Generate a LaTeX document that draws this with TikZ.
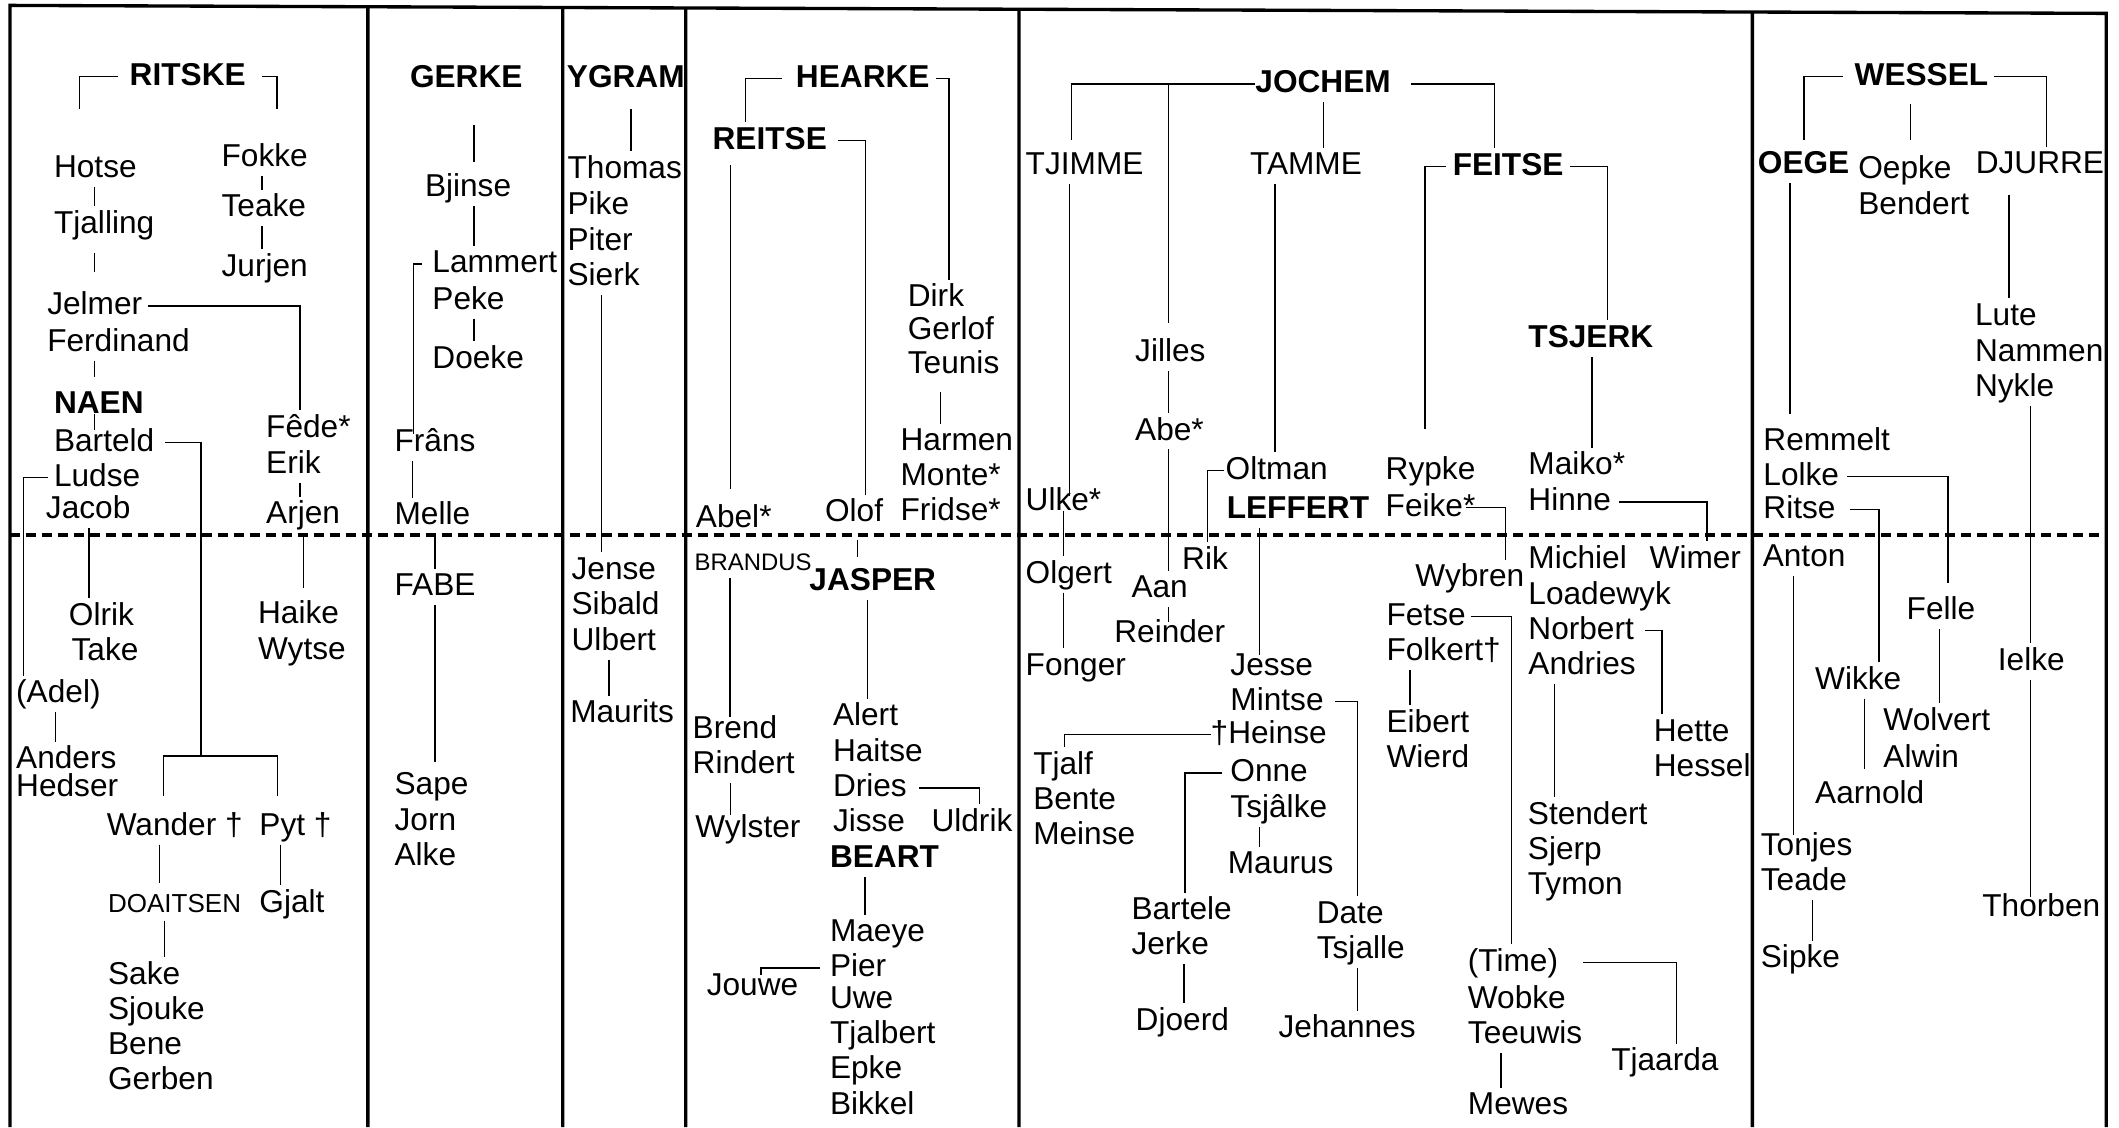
\documentclass[tikz,border=0pt]{standalone}
\usepackage{fontspec}
\setmainfont{Liberation Sans}
\newlength\pxu
\setlength\pxu{0.13514mm}

\begin{document}
\begin{tikzpicture}[x=\pxu, y=-\pxu,
  nm/.style={anchor=base west, inner sep=0pt, outer xsep=0pt, outer ysep=0.7pt,
             text height=7pt, text depth=2pt, font=\fontsize{9}{10}\selectfont},
  bnm/.style={nm, font=\fontsize{9}{10}\selectfont\bfseries},
  snm/.style={nm, text height=5.5pt, text depth=1.6pt, font=\fontsize{7.4}{8}\selectfont},
  edgeline/.style={line width=0.95pt},
  midline/.style={line width=1.15pt, dash pattern=on 2.85pt off 1.7pt}]

\useasboundingbox (0,0) rectangle (1568,834);

\draw[edgeline] (7.4,834) -- (7.4,4) -- (1558.5,9.9) -- (1558.5,834)
      (272.2,5) -- (272.2,834) (416.4,5.6) -- (416.4,834) (507.4,5.9) -- (507.4,834)
      (754,6.8) -- (754,834) (1296.7,8.9) -- (1296.7,834);
\draw[midline] (7.4,396) -- (1558.5,396);

% RITSKE
\path (96,63.3) node[bnm] (ritske) {RITSKE}
      (40,131) node[nm] (hotse) {Hotse} (40,172.5) node[nm] (tjalling) {Tjalling}
      (164,123) node[nm] (fokke) {Fokke} (164,160.5) node[nm] (teake) {Teake}
      (164,204.5) node[nm] (jurjen) {Jurjen}
      (35,233) node[nm] (jelmer) {Jelmer} (35,260) node[nm] (ferdinand) {Ferdinand}
      (40,306) node[bnm] (naen) {NAEN} (40,334) node[nm] (barteld) {Barteld}
      (40,360) node[nm] (ludse) {Ludse} (34,384) node[nm] (jacob) {Jacob}
      (197,323.6) node[nm] (fede) {Fêde*} (197,350.6) node[nm] (erik) {Erik}
      (197,387.5) node[nm] (arjen) {Arjen}
      (51,462.8) node[nm] (olrik) {Olrik} (53,488.7) node[nm] (take) {Take}
      (191,461.5) node[nm] (haike) {Haike} (191,487.9) node[nm] (wytse) {Wytse}
      (12,520) node[nm] (adel) {(Adel)}
      (12,569) node[nm] (anders) {Anders} (12,589.5) node[nm] (hedser) {Hedser}
      (79,618) node[nm] (wander) {Wander †} (192,618) node[nm] (pyt) {Pyt †}
      (80,675.2) node[snm] (doaitsen) {DOAITSEN} (192,675.2) node[nm] (gjalt) {Gjalt}
      (80,728.3) node[nm] (sake) {Sake} (80,754.2) node[nm] (sjouke) {Sjouke}
      (80,780) node[nm] (bene) {Bene} (80,806) node[nm] (gerben) {Gerben};

\draw ([xshift=-9\pxu]ritske.west) -| ++(-28,24);
\draw ([xshift=12.2\pxu]ritske.east) -| ++(11,24);
\draw ([xshift=30\pxu]hotse.south west) -- ([xshift=30\pxu]hotse.south west |- tjalling.north);
\draw[shorten <=8\pxu, shorten >=12\pxu] ([xshift=30\pxu]tjalling.south west) -- ([xshift=30\pxu]tjalling.south west |- jelmer.north);
\draw ([xshift=30\pxu]fokke.south west) -- ([xshift=30\pxu]fokke.south west |- teake.north);
\draw ([xshift=30\pxu]teake.south west) -- ([xshift=30\pxu]teake.south west |- jurjen.north);
\draw ([xshift=4.5\pxu]jelmer.east) -| ([xshift=25\pxu]fede.north west);
\draw[shorten >=7\pxu] ([xshift=35\pxu]ferdinand.south west) -- ([xshift=35\pxu]ferdinand.south west |- naen.north);
\draw[shorten >=-4\pxu] ([xshift=30\pxu]naen.base west) -- ([xshift=30\pxu]naen.base west |- barteld.north);
\draw ([xshift=8.2\pxu]barteld.east) -| ++(26.5,232) coordinate (bfork);
\draw[shorten <=9\pxu, shorten >=9\pxu] ([xshift=41.8\pxu]wander.north west) |- (bfork) -| ([xshift=13.3\pxu]pyt.north west);
\draw ([xshift=-4.3\pxu]ludse.west) -| ([xshift=5.2\pxu]adel.north west);
\draw ([xshift=32\pxu]jacob.south west) -- ([xshift=32\pxu]jacob.south west |- olrik.north);
\draw ([xshift=25\pxu]erik.south west) -- ([xshift=25\pxu]erik.south west |- arjen.north);
\draw[shorten >=6.5\pxu] ([xshift=27.6\pxu]arjen.south west) -- ([xshift=27.6\pxu]arjen.south west |- haike.north);
\draw ([xshift=29\pxu]adel.south west) -- ([xshift=29\pxu]adel.south west |- anders.north);
\draw[shorten >=5.5\pxu] ([xshift=39\pxu]wander.south west) -- ([xshift=39\pxu]wander.south west |- doaitsen.north);
\draw ([xshift=15.5\pxu]pyt.south west) -- ([xshift=15.5\pxu]pyt.south west |- gjalt.north);
\draw ([xshift=41.6\pxu]doaitsen.south west) -- ([xshift=41.6\pxu]doaitsen.south west |- sake.north);

% GERKE
\path (303.4,64.7) node[bnm] (gerke) {GERKE}
      (314.5,145.6) node[nm] (bjinse) {Bjinse}
      (320,202) node[nm] (lammert) {Lammert} (320,228.7) node[nm] (peke) {Peke}
      (320,272.4) node[nm] (doeke) {Doeke}
      (292,334.4) node[nm] (frans) {Frâns} (292,388.3) node[nm] (melle) {Melle}
      (292,441) node[nm] (fabe) {FABE}
      (292,588.1) node[nm] (sape) {Sape} (292,614.5) node[nm] (jorn) {Jorn}
      (292,640.4) node[nm] (alke) {Alke};

\draw[shorten <=21\pxu, shorten >=6\pxu] ([xshift=47.3\pxu]gerke.south west) -- ([xshift=47.3\pxu]gerke.south west |- bjinse.north);
\draw ([xshift=36.2\pxu]bjinse.south west) -- ([xshift=36.2\pxu]bjinse.south west |- lammert.north);
\draw[shorten >=-7\pxu] ([xshift=-7.6\pxu]lammert.west) -| ([xshift=14\pxu]frans.north west);
\draw ([xshift=30.7\pxu]peke.south west) -- ([xshift=30.7\pxu]peke.south west |- doeke.north);
\draw ([xshift=13.2\pxu]frans.south west) -- ([xshift=13.2\pxu]frans.south west |- melle.north);
\draw ([xshift=29.9\pxu]melle.south west) -- ([xshift=29.9\pxu]melle.south west |- fabe.north);
\draw[shorten >=4\pxu] ([xshift=29.9\pxu]fabe.south west) -- ([xshift=29.9\pxu]fabe.south west |- sape.north);

% YGRAM
\path (419.5,64.6) node[bnm] (ygram) {YGRAM}
      (420,131.9) node[nm] (thomas) {Thomas} (420,158.8) node[nm] (pike) {Pike}
      (420,185.7) node[nm] (piter) {Piter} (420,211.2) node[nm] (sierk) {Sierk}
      (423,428.8) node[nm] (jense) {Jense} (423,454.7) node[nm] (sibald) {Sibald}
      (423,481) node[nm] (ulbert) {Ulbert} (422,535) node[nm] (maurits) {Maurits};

\draw[shorten <=9\pxu] ([xshift=47.5\pxu]ygram.south west) -- ([xshift=47.5\pxu]ygram.south west |- thomas.north);
\draw ([xshift=25.3\pxu]sierk.south west) -- ([xshift=25.3\pxu]sierk.south west |- jense.north);
\draw ([xshift=27.5\pxu]ulbert.south west) -- ([xshift=27.5\pxu]ulbert.south west |- maurits.north);

% HEARKE
\path (589,64.6) node[bnm] (hearke) {HEARKE}
      (527.3,110.3) node[bnm] (reitse) {REITSE}
      (671.8,227) node[nm] (dirk) {Dirk} (671.8,251) node[nm] (gerlof) {Gerlof}
      (671.8,276.5) node[nm] (teunis) {Teunis}
      (666.4,333.7) node[nm] (harmen) {Harmen} (666.4,359.3) node[nm] (monte) {Monte*}
      (666.4,384.8) node[nm] (fridse) {Fridse*}
      (515,390.7) node[nm] (abel) {Abel*} (610.5,386.2) node[nm] (olof) {Olof}
      (514,422) node[snm, font=\fontsize{6.8}{8}\selectfont] (brandus) {BRANDUS}
      (599,437) node[bnm] (jasper) {JASPER}
      (512.6,546.4) node[nm] (brend) {Brend} (512.6,572.3) node[nm] (rindert) {Rindert}
      (514.5,619.4) node[nm] (wylster) {Wylster}
      (616.4,537.2) node[nm] (alert) {Alert} (616.4,563.6) node[nm] (haitse) {Haitse}
      (616.4,589.5) node[nm] (dries) {Dries} (616.4,615.3) node[nm] (jisse) {Jisse}
      (689.3,615.3) node[nm] (uldrik) {Uldrik}
      (614.2,641.7) node[bnm] (beart) {BEART}
      (614.2,697) node[nm] (maeye) {Maeye} (614.2,722.9) node[nm] (pier) {Pier}
      (614.2,746) node[nm] (uwe) {Uwe} (614.2,771.9) node[nm] (tjalbert) {Tjalbert}
      (614.2,797.8) node[nm] (epke) {Epke} (614.2,825) node[nm] (bikkel) {Bikkel}
      (523,736.5) node[nm] (jouwe) {Jouwe};

\draw ([xshift=-10\pxu]hearke.west) -| ([xshift=24.2\pxu]reitse.north west);
\draw ([xshift=4.5\pxu]hearke.east) -| ([xshift=30.3\pxu]dirk.north west);
\draw ([xshift=8.2\pxu]reitse.east) -| ([xshift=30.1\pxu]olof.north west);
\draw[shorten <=5\pxu, shorten >=8.7\pxu] ([xshift=13.1\pxu]reitse.south west) -- ([xshift=13.1\pxu]reitse.south west |- abel.north);
\draw[shorten <=6.5\pxu] ([xshift=24.2\pxu]teunis.south west) -- ([xshift=24.2\pxu]teunis.south west |- harmen.north);
\draw[shorten <=6\pxu, shorten >=5\pxu] ([xshift=23.9\pxu]olof.south west) -- ([xshift=23.9\pxu]olof.south west |- jasper.north);
\draw[shorten >=-4\pxu] ([xshift=26.1\pxu]brandus.south west) -- ([xshift=26.1\pxu]brandus.south west |- brend.north);
\draw ([xshift=42.8\pxu]jasper.south west) -- ([xshift=42.8\pxu]jasper.south west |- alert.north);
\draw[shorten >=-4\pxu] ([xshift=27.8\pxu]rindert.south west) -- ([xshift=27.8\pxu]rindert.south west |- wylster.north);
\draw ([xshift=9\pxu]dries.east) -| ([xshift=35.5\pxu]uldrik.north west);
\draw ([xshift=25.9\pxu]beart.south west) -- ([xshift=25.9\pxu]beart.south west |- maeye.north);
\draw[shorten >=-5\pxu] ([xshift=-7.4\pxu]pier.west) -| ([xshift=40.1\pxu]jouwe.north west);

% JOCHEM
\path (929,68.6) node[bnm] (jochem) {JOCHEM}
      (759,129.2) node[nm] (tjimme) {TJIMME} (925,129.2) node[nm] (tamme) {TAMME}
      (1075,129.7) node[bnm] (feitse) {FEITSE}
      (840,267.8) node[nm] (jilles) {Jilles} (840,325.6) node[nm] (abe) {Abe*}
      (1131,257) node[bnm] (tsjerk) {TSJERK}
      (759,378) node[nm] (ulke) {Ulke*}
      (907,354.7) node[nm] (oltman) {Oltman} (907.8,383.5) node[bnm] (leffert) {LEFFERT}
      (1025.4,354.7) node[nm] (rypke) {Rypke} (1025.4,382.1) node[nm] (feike) {Feike*}
      (1131,351.2) node[nm] (maiko) {Maiko*} (1131,378.1) node[nm] (hinne) {Hinne}
      (1131,420.5) node[nm] (michiel) {Michiel} (1220.7,420.5) node[nm] (wimer) {Wimer}
      (1131,447) node[nm] (loadewyk) {Loadewyk} (1131,473) node[nm] (norbert) {Norbert}
      (1131,499) node[nm] (andries) {Andries}
      (759,431.5) node[nm] (olgert) {Olgert} (759,499.6) node[nm] (fonger) {Fonger}
      (874.8,421.2) node[nm] (rik) {Rik} (837.3,442.4) node[nm] (aan) {Aan}
      (824.6,475.1) node[nm] (reinder) {Reinder}
      (910.5,499.6) node[nm] (jesse) {Jesse} (910.5,525.5) node[nm] (mintse) {Mintse}
      (895.9,550) node[nm] (heinse) {†Heinse}
      (1047.4,434.2) node[nm] (wybren) {Wybren}
      (1026,462.8) node[nm] (fetse) {Fetse} (1026,488.7) node[nm] (folkert) {Folkert†}
      (1026,541.8) node[nm] (eibert) {Eibert} (1026,567.7) node[nm] (wierd) {Wierd}
      (764.6,573.1) node[nm] (tjalf) {Tjalf} (764.6,599) node[nm] (bente) {Bente}
      (764.6,624.9) node[nm] (meinse) {Meinse}
      (910.5,578.6) node[nm] (onne) {Onne} (910.5,605) node[nm] (tsjalke) {Tsjâlke}
      (908.6,646.7) node[nm] (maurus) {Maurus}
      (1223.8,548.6) node[nm] (hette) {Hette} (1223.8,574.5) node[nm] (hessel) {Hessel}
      (1130.6,609.9) node[nm] (stendert) {Stendert} (1130.6,635.8) node[nm] (sjerp) {Sjerp}
      (1130.6,661.6) node[nm] (tymon) {Tymon}
      (837.3,680.7) node[nm] (bartele) {Bartele} (837.3,706.6) node[nm] (jerke) {Jerke}
      (974.4,683.4) node[nm] (date) {Date} (974.4,709.3) node[nm] (tsjalle) {Tsjalle}
      (1086.2,718.8) node[nm] (time) {(Time)} (1086.2,746) node[nm] (wobke) {Wobke}
      (1086.2,771.9) node[nm] (teeuwis) {Teeuwis}
      (840.4,762.4) node[nm] (djoerd) {Djoerd} (946.1,767.8) node[nm] (jehannes) {Jehannes}
      (1192.3,792.3) node[nm] (tjaarda) {Tjaarda} (1086.2,825) node[nm] (mewes) {Mewes};

\draw[shorten >=5.6\pxu] (jochem.west) -| ([xshift=33.9\pxu]tjimme.north west);
\draw[shorten <=9\pxu] ([xshift=24.7\pxu]jilles.north west) |- (jochem.west);
\draw ([xshift=14.8\pxu]jochem.east) -| ([xshift=31\pxu]feitse.north west);
\draw ([xshift=50.2\pxu]jochem.south west) -- ([xshift=50.2\pxu]jochem.south west |- tamme.north);
\draw[shorten >=-9\pxu] ([xshift=32.5\pxu]tjimme.south west) -- ([xshift=32.5\pxu]tjimme.south west |- ulke.north);
\draw ([xshift=18.5\pxu]tamme.south west) -- ([xshift=18.5\pxu]tamme.south west |- oltman.north);
\draw[shorten >=17\pxu] ([xshift=-4.7\pxu]feitse.west) -| ([xshift=29.1\pxu]rypke.north west);
\draw ([xshift=4.5\pxu]feitse.east) -| ([xshift=58.6\pxu]tsjerk.north west);
\draw ([xshift=24.7\pxu]jilles.south west) -- ([xshift=24.7\pxu]jilles.south west |- abe.north);
\draw ([xshift=24.7\pxu]abe.south west) -- ([xshift=24.7\pxu]abe.south west |- aan.north);
\draw ([xshift=46.9\pxu]tsjerk.south west) -- ([xshift=46.9\pxu]tsjerk.south west |- maiko.north);
\draw ([xshift=-1\pxu]oltman.west) -| ([xshift=18.5\pxu]rik.north west);
\draw ([xshift=28\pxu]ulke.base west) -- ([xshift=28\pxu]ulke.base west |- olgert.north);
\draw[shorten >=-5\pxu] ([xshift=24.3\pxu]leffert.south west) -- ([xshift=24.3\pxu]leffert.south west |- jesse.north);
\draw ([xshift=-6.8\pxu]feike.east) -| ([xshift=66.6\pxu]wybren.north west);
\draw ([xshift=6.2\pxu]hinne.east) -| ([xshift=42.4\pxu]wimer.north west);
\draw ([xshift=27.8\pxu]olgert.south west) -- ([xshift=27.8\pxu]olgert.south west |- fonger.north);
\draw[shorten >=-5\pxu] ([xshift=27.4\pxu]aan.south west) -- ([xshift=27.4\pxu]aan.south west |- reinder.north);
\draw ([xshift=3.8\pxu]fetse.east) -| ([xshift=32.2\pxu]time.north west);
\draw ([xshift=8.5\pxu]norbert.east) -| ([xshift=6\pxu]hette.north west);
\draw ([xshift=17.4\pxu]folkert.south west) -- ([xshift=17.4\pxu]folkert.south west |- eibert.north);
\draw ([xshift=19.2\pxu]andries.south west) -- ([xshift=19.2\pxu]andries.south west |- stendert.north);
\draw ([xshift=8.5\pxu]mintse.east) -| ([xshift=29.9\pxu]date.north west);
\draw (heinse.west) -| ([xshift=23\pxu]tjalf.north west);
\draw ([xshift=-5.9\pxu]onne.west) -| ([xshift=39.6\pxu]bartele.north west);
\draw ([xshift=21.6\pxu]tsjalke.south west) -- ([xshift=21.6\pxu]tsjalke.south west |- maurus.north);
\draw ([xshift=38.8\pxu]jerke.south west) -- ([xshift=38.8\pxu]jerke.south west |- djoerd.north);
\draw ([xshift=29.9\pxu]tsjalle.south west) -- ([xshift=29.9\pxu]tsjalle.south west |- jehannes.north);
\draw ([xshift=18.6\pxu]time.east) -| ([xshift=48.4\pxu]tjaarda.north west);
\draw ([xshift=24.6\pxu]teeuwis.south west) -- ([xshift=24.6\pxu]teeuwis.south west |- mewes.north);

% WESSEL
\path (1372.4,63.2) node[bnm] (wessel) {WESSEL}
      (1300.8,128.6) node[bnm] (oege) {OEGE}
      (1375.1,131.9) node[nm] (oepke) {Oepke} (1375.1,158.8) node[nm] (bendert) {Bendert}
      (1462,128.6) node[nm] (djurre) {DJURRE}
      (1461.5,240.8) node[nm] (lute) {Lute} (1461.5,267.8) node[nm] (nammen) {Nammen}
      (1461.5,293.3) node[nm] (nykle) {Nykle}
      (1304.9,333.7) node[nm] (remmelt) {Remmelt} (1304.9,359.3) node[nm] (lolke) {Lolke}
      (1304.9,383.5) node[nm] (ritse) {Ritse}
      (1304.4,419) node[nm] (anton) {Anton}
      (1410.9,458.7) node[nm] (felle) {Felle} (1478.4,496.1) node[nm] (ielke) {Ielke}
      (1343.2,509.9) node[nm] (wikke) {Wikke}
      (1393.7,540.4) node[nm] (wolvert) {Wolvert} (1393.7,567.7) node[nm] (alwin) {Alwin}
      (1343.2,594.4) node[nm] (aarnold) {Aarnold}
      (1303,633) node[nm] (tonjes) {Tonjes} (1303,658.9) node[nm] (teade) {Teade}
      (1466.9,678) node[nm] (thorben) {Thorben} (1303,716.1) node[nm] (sipke) {Sipke};

\draw[shorten >=5\pxu] ([xshift=-8.8\pxu]wessel.west) -| ([xshift=34.2\pxu]oege.north west);
\draw ([xshift=4.4\pxu]wessel.east) -| ([xshift=52.5\pxu]djurre.north west);
\draw[shorten <=6.5\pxu, shorten >=8\pxu] ([xshift=41.2\pxu]wessel.south west) -- ([xshift=41.2\pxu]wessel.south west |- oepke.north);
\draw[shorten <=8.4\pxu] ([xshift=24.6\pxu]djurre.south west) -- ([xshift=24.6\pxu]djurre.south west |- lute.north);
\draw[shorten >=7.5\pxu] ([xshift=23.8\pxu]oege.south west) -- ([xshift=23.8\pxu]oege.south west |- remmelt.north);
\draw ([xshift=40.9\pxu]nykle.south west) -- ([xshift=40.9\pxu]nykle.south west |- ielke.north);
\draw[shorten >=7\pxu] ([xshift=6.1\pxu]lolke.east) -| ([xshift=30.6\pxu]felle.north west);
\draw ([xshift=10.4\pxu]ritse.east) -| ([xshift=47.2\pxu]wikke.north west);
\draw[shorten >=-5\pxu] ([xshift=22.6\pxu]anton.south west) -- ([xshift=22.6\pxu]anton.south west |- tonjes.north);
\draw ([xshift=24.3\pxu]felle.south west) -- ([xshift=24.3\pxu]felle.south west |- wolvert.north);
\draw[shorten >=-6\pxu] ([xshift=24\pxu]ielke.south west) -- ([xshift=24\pxu]ielke.south west |- thorben.north);
\draw[shorten >=5\pxu] ([xshift=36.3\pxu]wikke.south west) -- ([xshift=36.3\pxu]wikke.south west |- aarnold.north);
\draw ([xshift=38.2\pxu]teade.south west) -- ([xshift=38.2\pxu]teade.south west |- sipke.north);
\end{tikzpicture}
\end{document}
